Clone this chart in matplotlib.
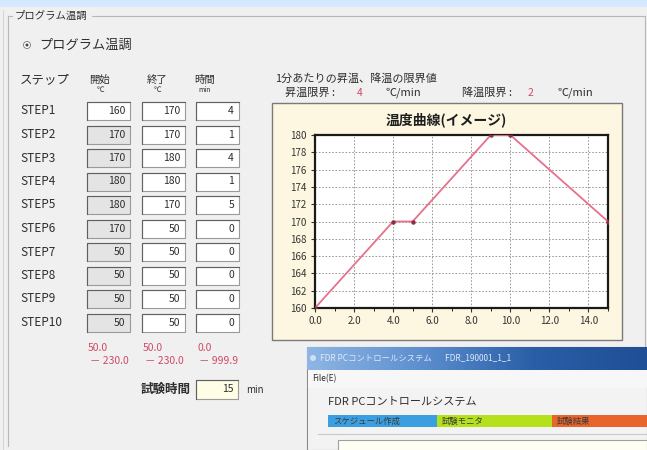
import numpy as np
import matplotlib
matplotlib.use('Agg')
import matplotlib.pyplot as plt
from matplotlib.patches import Rectangle, Circle

plt.rcParams['font.family'] = ['Noto Sans CJK JP', 'DejaVu Sans']

# ステップ設定
step_names = ['STEP1', 'STEP2', 'STEP3', 'STEP4', 'STEP5',
              'STEP6', 'STEP7', 'STEP8', 'STEP9', 'STEP10']
step_start = [160, 170, 170, 180, 180, 170, 50, 50, 50, 50]
step_end = [170, 170, 180, 180, 170, 50, 50, 50, 50, 50]
step_min = [4, 1, 4, 1, 5, 0, 0, 0, 0, 0]
test_time = 15

# 温度曲線
curve_t = [0, 4, 5, 9, 10, 15]
curve_temp = [160, 170, 170, 180, 180, 170]
x_ticks = [0, 2, 4, 6, 8, 10, 12, 14]
y_ticks = [160, 162, 164, 166, 168, 170, 172, 174, 176, 178, 180]

W, H = 647, 450
fig = plt.figure(figsize=(W / 100, H / 100), dpi=100)
fig.patch.set_facecolor('#f0f0f0')

# 背景用の軸（ピクセル座標）
bg = fig.add_axes([0, 0, 1, 1])
bg.set_xlim(0, W)
bg.set_ylim(H, 0)
bg.axis('off')

txt = '#2e2e2e'
red = '#d04a66'


def box(x, y, w, h, fc='white', ec='#9a9a9a', lw=0.8, z=2):
    bg.add_patch(Rectangle((x, y), w, h, facecolor=fc, edgecolor=ec, lw=lw, zorder=z))


def label(x, y, s, size=7, color=txt, ha='left', **kw):
    bg.text(x, y, s, fontsize=size, color=color, ha=ha, va='center', **kw)


# 上部の帯
box(0, 0, W, 7, fc='#d6e8fb', ec='none', lw=0)

# グループボックス
bg.plot([8, 12], [16, 16], color='#b8b8b8', lw=0.8)
bg.plot([92, 645, 645], [16, 16, 446], color='#b8b8b8', lw=0.8)
bg.plot([8, 8], [16, 446], color='#b8b8b8', lw=0.8)
bg.plot([3, 3], [10, 450], color='#cfcfcf', lw=0.6)
label(15, 16, 'プログラム温調', size=7.5)

# ラジオボタン
bg.add_patch(Circle((27, 45), 3.5, facecolor='white', edgecolor='#777777', lw=0.6, zorder=3))
bg.add_patch(Circle((27, 45), 1.5, facecolor='#444444', edgecolor='none', zorder=4))
label(39, 45, 'プログラム温調', size=9.5)

# 見出し
label(20, 80, 'ステップ', size=9)
label(100, 80, '開始', size=7.5, ha='center')
label(100, 90, '℃', size=5.5, ha='center')
label(157, 80, '終了', size=7.5, ha='center')
label(157, 90, '℃', size=5.5, ha='center')
label(205, 80, '時間', size=7.5, ha='center')
label(205, 90, 'min', size=5, ha='center')

# ステップ行
col_x = [87, 142, 196]
col_w = 43
row_y0 = 111
row_dy = 23.5
for i, name in enumerate(step_names):
    y = row_y0 + i * row_dy
    label(20, y, name, size=8.5)
    vals = [step_start[i], step_end[i], step_min[i]]
    for j, v in enumerate(vals):
        fc = '#e4e4e4' if (j == 0 and i > 0) else 'white'
        box(col_x[j], y - 9, col_w, 18, fc=fc)
        bg.plot([col_x[j], col_x[j], col_x[j] + col_w], [y + 9, y - 9, y - 9],
                color='#606060', lw=0.8, zorder=3)
        label(col_x[j] + col_w - 5, y, str(v), size=7.5, ha='right')

# 入力範囲
ranges = [('50.0', '－ 230.0'), ('50.0', '－ 230.0'), ('0.0', '－ 999.9')]
for j, (lo, hi) in enumerate(ranges):
    label(col_x[j] + 1, 348, lo, size=7.5, color=red)
    label(col_x[j] + col_w - 1, 361, hi, size=7.5, color=red, ha='right')

# 試験時間
label(191, 389, '試験時間', size=9, ha='right', weight='bold')
box(196, 380, 42, 19, fc='#fffde6')
bg.plot([196, 196, 238], [399, 380, 380], color='#606060', lw=0.8, zorder=3)
label(234, 389, str(test_time), size=7.5, ha='right')
label(246, 390, 'min', size=7)

# 昇温・降温の限界値
label(275, 79, '1分あたりの昇温、降温の限界値', size=8)
label(285, 93, '昇温限界 :', size=8)
label(360, 93, '4', size=7.5, color=red, ha='center')
label(385, 93, '℃/min', size=8)
label(462, 93, '降温限界 :', size=8)
label(530, 93, '2', size=7.5, color=red, ha='center')
label(557, 93, '℃/min', size=8)

# グラフパネル
box(272, 103, 350, 237, fc='#fdf7e2', ec='#7a7a7a', lw=1.0)
label(446, 120, '温度曲線(イメージ)', size=10, weight='bold', color='#1e1e1e', ha='center')

# 温度曲線の軸
ax_l, ax_r, ax_t, ax_b = 315, 608, 135, 308
ax = fig.add_axes([ax_l / W, 1 - ax_b / H, (ax_r - ax_l) / W, (ax_b - ax_t) / H])
ax.set_facecolor('white')
ax.plot(curve_t, curve_temp, color='#e8708a', lw=1.3, zorder=3)
ax.plot(curve_t, curve_temp, 'o', color='#8a3040', ms=2.2, zorder=4)
ax.set_xlim(0, 15)
ax.set_ylim(160, 180)
ax.set_xticks(x_ticks)
ax.set_xticklabels([f'{v:.1f}' for v in x_ticks])
ax.set_yticks(y_ticks)
ax.set_xticks(np.arange(0, 15.5, 1), minor=True)
ax.grid(True, which='major', color='#8c8c8c', linestyle=(0, (2, 2)), lw=0.6)
ax.tick_params(labelsize=7, colors='#333333', length=3, width=0.8, pad=3)
ax.tick_params(which='minor', length=2, width=0.6)
for s in ax.spines.values():
    s.set_linewidth(1.6)
    s.set_color('#1a1a1a')

# 前面の別ウィンドウ
box(307, 347, W - 307, 103, fc='#f3f3f3', ec='#8a8a8a', lw=0.8, z=5)
grad = np.linspace(0, 1, 256).reshape(1, -1)
bg.imshow(grad, extent=(307, W, 370, 347), aspect='auto', zorder=6,
          cmap=matplotlib.colors.LinearSegmentedColormap.from_list(
              'tb', ['#8fb6e4', '#5d8fcf', '#2a5ea6', '#1f4f96']))
bg.set_xlim(0, W)
bg.set_ylim(H, 0)
bg.add_patch(Circle((313, 358), 3, facecolor='#cfe0f4', edgecolor='none', zorder=7))
bg.text(320, 358, 'FDR PCコントロールシステム       FDR_190001_1_1', fontsize=6,
        color='#dfeaf8', va='center', zorder=7)
box(308, 370, W - 308, 18, fc='#f7f7f7', ec='none', lw=0, z=6)
bg.text(312, 379, 'File(E)', fontsize=6, color=txt, va='center', zorder=7)
bg.text(328, 401, 'FDR PCコントロールシステム', fontsize=8, color=txt, va='center', zorder=7)
tabs = [(328, 437, '#3a9ee0', 'スケジュール作成'), (437, 552, '#b4e01c', '試験モニタ'),
        (552, W, '#e8652c', '試験結果')]
for x0, x1, c, s in tabs:
    box(x0, 415, x1 - x0, 12, fc=c, ec='none', lw=0, z=7)
    bg.text(x0 + 5, 421, s, fontsize=6, color='#3a3a3a', va='center', zorder=8)
bg.plot([318, W], [434, 434], color='#c8c8c8', lw=0.8, zorder=7)
box(338, 440, W - 338, 12, fc='#fffef2', ec='#a0a0a0', lw=0.8, z=7)

fig.savefig('out.png', dpi=100, facecolor=fig.get_facecolor())
